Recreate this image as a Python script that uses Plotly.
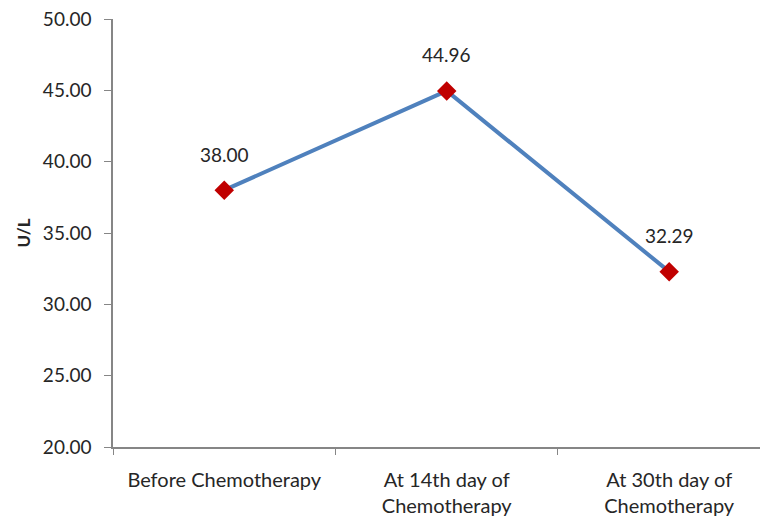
import plotly.graph_objects as go

categories = ["Before Chemotherapy", "At 14th day of<br>Chemotherapy", "At 30th day of<br>Chemotherapy"]
values = [38.00, 44.96, 32.29]
y_ticks = [20, 25, 30, 35, 40, 45, 50]

FONT = "Lato"
fig = go.Figure()
fig.add_trace(go.Scatter(
    x=categories, y=values, mode="lines+markers",
    line=dict(color="#4F81BD", width=4),
    marker=dict(symbol="diamond", size=15, color="#C00000"),
    showlegend=False, hoverinfo="skip",
))
for c, v in zip(categories, values):
    fig.add_annotation(x=c, y=v, text=f"{v:.2f}", showarrow=False, yshift=36,
                       font=dict(family=FONT, size=19, color="#262626"))

fig.update_layout(
    width=768, height=524,
    margin=dict(l=105, r=0, t=11, b=85),
    plot_bgcolor="white", paper_bgcolor="white",
    font=dict(family=FONT, size=19, color="#262626"),
)
fig.update_xaxes(
    type="category", range=[-0.5, 2.48], showgrid=False,
    showline=True, linecolor="#868686", linewidth=1.5,
    ticks="outside", tickson="boundaries", ticklen=6, tickcolor="#868686",
    ticklabelstandoff=14,
    tickfont=dict(family=FONT, size=20, color="#262626"),
)
fig.update_yaxes(
    range=[20, 50], tickvals=y_ticks, ticktext=[f"{t:.2f}" for t in y_ticks],
    showgrid=False, zeroline=False,
    showline=True, linecolor="#868686", linewidth=1.5,
    ticks="outside", ticklen=7, tickcolor="#868686",
    ticklabelstandoff=9, ticklabeloverflow="allow",
    tickfont=dict(family=FONT, size=19, color="#262626"),
    title=dict(text="<b>U/L</b>", font=dict(family=FONT, size=17, color="#262626"), standoff=8),
)
fig.write_html("out.html")
